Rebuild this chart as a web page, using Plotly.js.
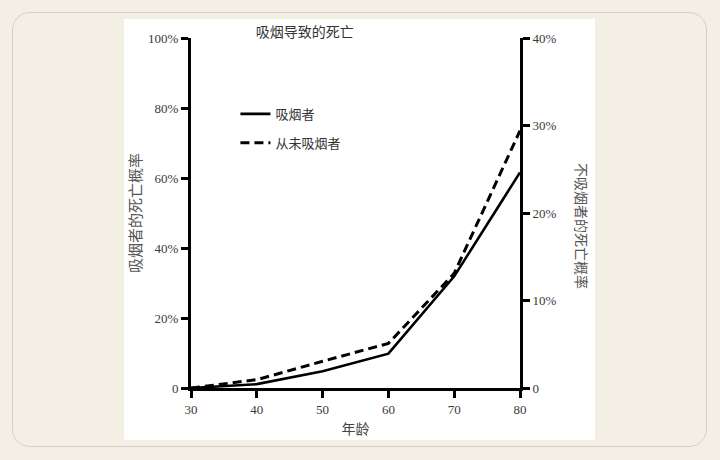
<!DOCTYPE html>
<html>
<head>
<meta charset="utf-8">
<script src="https://cdn.plot.ly/plotly-3.0.1.min.js"></script>
<style>
  html, body { margin: 0; padding: 0; width: 720px; height: 460px; background: #f3efe5; overflow: hidden; }
  #frame { position: absolute; left: 12px; top: 12px; width: 693px; height: 433px; border: 1.5px solid #d3cfc6; border-radius: 18px; box-sizing: content-box; }
  #chart { position: absolute; left: 124px; top: 19px; width: 471px; height: 421px; background: #ffffff; }
</style>
</head>
<body>
<div id="frame"></div>
<div id="chart"></div>
<script>
// Data
const ages = [30, 40, 50, 60, 70, 80];
const smokers = [0, 1.1, 4.8, 9.8, 31.9, 61.6];          // % (left axis)
const neverSmokers = [0, 0.95, 3.05, 5.1, 13.1, 29.4];   // % (right axis)
const leftTickVals = [0, 20, 40, 60, 80, 100];
const leftTickText = ['0', '20%', '40%', '60%', '80%', '100%'];
const rightTickVals = [0, 10, 20, 30, 40];
const rightTickText = ['0', '10%', '20%', '30%', '40%'];
const xTickVals = [30, 40, 50, 60, 70, 80];
const seriesNames = ['吸烟者', '从未吸烟者'];
const chartTitle = '吸烟导致的死亡';
const xTitle = '年龄';
const yLeftTitle = '吸烟者的死亡概率';
const yRightTitle = '不吸烟者的死亡概率';

const cjk = '"Noto Sans CJK SC", "Noto Sans", sans-serif';
const serif = '"Liberation Serif", "DejaVu Serif", serif';

const traces = [
  { x: ages, y: smokers, name: seriesNames[0], type: 'scatter', mode: 'lines',
    line: { color: '#000', width: 2.6 }, yaxis: 'y', legendgroup: 'a' },
  { x: ages, y: neverSmokers, name: seriesNames[1], type: 'scatter', mode: 'lines',
    line: { color: '#000', width: 3, dash: '9px,5px' }, yaxis: 'y2', legendgroup: 'b' }
];

const axisCommon = {
  showline: true, linewidth: 3, linecolor: '#000',
  ticks: 'outside', ticklen: 7, tickwidth: 3, tickcolor: '#000',
  showgrid: false, zeroline: false, fixedrange: true,
  tickfont: { family: serif, size: 13, color: '#3a3a3a' }
};

const layout = {
  width: 471, height: 421,
  margin: { l: 67, r: 75, t: 19, b: 52 },
  paper_bgcolor: '#ffffff', plot_bgcolor: '#ffffff',
  showlegend: true,
  title: { text: chartTitle, x: 0.384, xanchor: 'center', y: 0.970, yanchor: 'middle',
           font: { family: cjk, size: 14, color: '#333' } },
  xaxis: Object.assign({}, axisCommon, {
    range: [30, 80], tickvals: xTickVals,
    title: { text: xTitle, standoff: 9, font: { family: cjk, size: 14, color: '#444' } }
  }),
  yaxis: Object.assign({}, axisCommon, {
    range: [0, 100], tickvals: leftTickVals, ticktext: leftTickText,
    title: { text: yLeftTitle, standoff: 6, font: { family: cjk, size: 15, color: '#555' } }
  }),
  yaxis2: Object.assign({}, axisCommon, {
    range: [0, 40], tickvals: rightTickVals, ticktext: rightTickText,
    overlaying: 'y', side: 'right'
  }),
  legend: { x: 0.135, xanchor: 'left', y: 0.826, yanchor: 'top',
            bgcolor: 'rgba(0,0,0,0)', traceorder: 'grouped', tracegroupgap: 9,
            font: { family: cjk, size: 13, color: '#333' } },
  annotations: [
    { text: yRightTitle, xref: 'paper', yref: 'paper', x: 1.19, y: 0.464,
      xanchor: 'center', yanchor: 'middle', textangle: 90, showarrow: false,
      font: { family: cjk, size: 14, color: '#555' } }
  ]
};

Plotly.newPlot('chart', traces, layout, { displayModeBar: false, staticPlot: true });
</script>
</body>
</html>
